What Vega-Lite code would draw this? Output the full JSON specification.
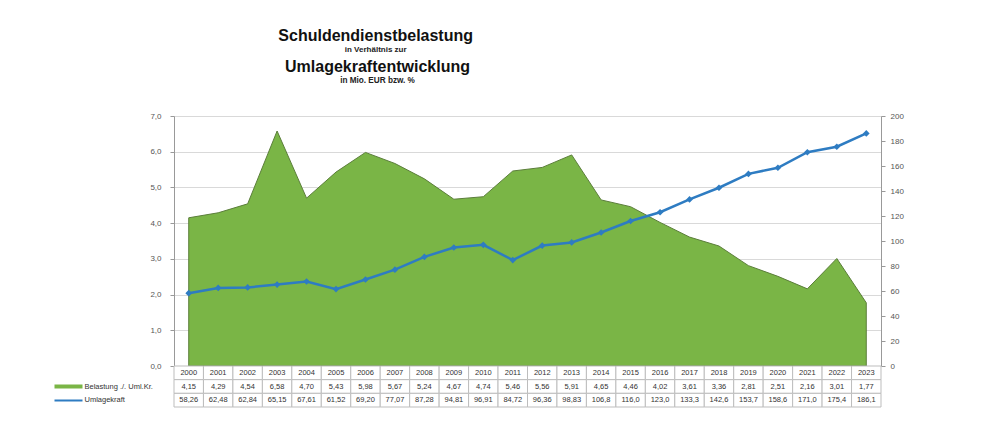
{
  "$schema": "https://vega.github.io/schema/vega-lite/v6.json",
  "background": "white",
  "padding": {"left": 52, "top": 27, "right": 10, "bottom": 10},
  "config": {
    "font": "Liberation Sans",
    "locale": {"number": {"decimal": ",", "thousands": ".", "grouping": [3], "currency": ["", " €"]}},
    "view": {"stroke": null},
    "axis": {"labelFont": "Liberation Sans", "labelFontSize": 8, "labelColor": "#555555"}
  },
  "datasets": {
    "d": [
      {"jahr": "2000", "belastung": 4.15, "umlage": 58.26},
      {"jahr": "2001", "belastung": 4.29, "umlage": 62.48},
      {"jahr": "2002", "belastung": 4.54, "umlage": 62.84},
      {"jahr": "2003", "belastung": 6.58, "umlage": 65.15},
      {"jahr": "2004", "belastung": 4.70, "umlage": 67.61},
      {"jahr": "2005", "belastung": 5.43, "umlage": 61.52},
      {"jahr": "2006", "belastung": 5.98, "umlage": 69.20},
      {"jahr": "2007", "belastung": 5.67, "umlage": 77.07},
      {"jahr": "2008", "belastung": 5.24, "umlage": 87.28},
      {"jahr": "2009", "belastung": 4.67, "umlage": 94.81},
      {"jahr": "2010", "belastung": 4.74, "umlage": 96.91},
      {"jahr": "2011", "belastung": 5.46, "umlage": 84.72},
      {"jahr": "2012", "belastung": 5.56, "umlage": 96.36},
      {"jahr": "2013", "belastung": 5.91, "umlage": 98.83},
      {"jahr": "2014", "belastung": 4.65, "umlage": 106.8},
      {"jahr": "2015", "belastung": 4.46, "umlage": 116.0},
      {"jahr": "2016", "belastung": 4.02, "umlage": 123.0},
      {"jahr": "2017", "belastung": 3.61, "umlage": 133.3},
      {"jahr": "2018", "belastung": 3.36, "umlage": 142.6},
      {"jahr": "2019", "belastung": 2.81, "umlage": 153.7},
      {"jahr": "2020", "belastung": 2.51, "umlage": 158.6},
      {"jahr": "2021", "belastung": 2.16, "umlage": 171.0},
      {"jahr": "2022", "belastung": 3.01, "umlage": 175.4},
      {"jahr": "2023", "belastung": 1.77, "umlage": 186.1}
    ]
  },
  "title": {
    "text": "Schuldendienstbelastung",
    "subtitle": "in Verhältnis zur",
    "anchor": "middle",
    "dx": -102,
    "font": "Liberation Sans",
    "fontSize": 16,
    "fontWeight": "bold",
    "color": "#111111",
    "subtitleFont": "Liberation Sans",
    "subtitleFontSize": 8,
    "subtitleFontWeight": "bold",
    "subtitleColor": "#222222",
    "subtitlePadding": 2,
    "offset": 5
  },
  "bounds": "flush",
  "spacing": 0,
  "vconcat": [
    {
      "width": 707,
      "height": 250,
      "data": {"name": "d"},
      "title": {
        "text": "Umlagekraftentwicklung",
        "subtitle": "in Mio. EUR bzw. %",
        "anchor": "middle",
        "dx": -150,
        "font": "Liberation Sans",
        "fontSize": 16,
        "fontWeight": "bold",
        "color": "#111111",
        "subtitleFont": "Liberation Sans",
        "subtitleFontSize": 8.2,
        "subtitleFontWeight": "bold",
        "subtitleColor": "#222222",
        "subtitlePadding": 2,
        "offset": 28
      },
      "layer": [
        {
          "mark": {"type": "area", "color": "#7ab546", "stroke": "#5b7e3a", "strokeWidth": 1, "opacity": 1},
          "encoding": {
            "x": {"field": "jahr", "type": "ordinal", "scale": {"type": "point", "padding": 0.5}, "axis": null},
            "y": {
              "field": "belastung", "type": "quantitative",
              "scale": {"domain": [0, 7], "nice": false},
              "axis": {
                "title": null, "values": [0, 1, 2, 3, 4, 5, 6, 7], "format": ".1f",
                "grid": true, "gridColor": "#d9d9d9", "domainColor": "#999999",
                "tickColor": "#999999", "tickSize": 4, "labelPadding": 9
              }
            }
          }
        },
        {
          "mark": {"type": "line", "color": "#2e7cc2", "strokeWidth": 2.5,
                   "point": {"shape": "diamond", "size": 45, "filled": true, "color": "#2e7cc2"}},
          "encoding": {
            "x": {"field": "jahr", "type": "ordinal", "scale": {"type": "point", "padding": 0.5}, "axis": null},
            "y": {
              "field": "umlage", "type": "quantitative",
              "scale": {"domain": [0, 200], "nice": false},
              "axis": {
                "orient": "right", "title": null,
                "values": [0, 20, 40, 60, 80, 100, 120, 140, 160, 180, 200], "format": "d",
                "grid": false, "domainColor": "#999999",
                "tickColor": "#999999", "tickSize": 4, "labelPadding": 5
              }
            }
          }
        }
      ],
      "resolve": {"scale": {"y": "independent"}}
    },
    {
      "width": 707,
      "height": 41,
      "data": {"name": "d"},
      "encoding": {
        "x": {"field": "jahr", "type": "nominal", "scale": {"type": "band", "paddingInner": 0, "paddingOuter": 0}, "axis": null}
      },
      "layer": [
        {
          "mark": {"type": "rect", "fill": "white", "stroke": "#bdbdbd", "strokeWidth": 1},
          "encoding": {
            "y": {
              "datum": "jahr", "type": "nominal",
              "scale": {"domain": ["jahr", "belastung", "umlage"], "type": "band", "paddingInner": 0, "paddingOuter": 0},
              "axis": {
                "title": null, "domain": false,
                "labelExpr": "datum.value == 'belastung' ? 'Belastung ./. Uml.Kr.' : datum.value == 'umlage' ? 'Umlagekraft' : ''",
                "labelAlign": "left", "labelPadding": -30, "labelFontSize": 7.5, "labelColor": "#333333",
                "tickSize": 120, "tickDash": [0, 92, 28, 500],
                "tickColor": {"condition": {"test": "datum.value == 'belastung'", "value": "#7ab546"}, "value": "#2e7cc2"},
                "tickWidth": {"condition": {"test": "datum.value == 'belastung'", "value": 4}, "value": 2},
                "tickOpacity": {"condition": {"test": "datum.value == 'jahr'", "value": 0}, "value": 1}
              }
            }
          }
        },
        {
          "mark": {"type": "rect", "fill": "white", "stroke": "#bdbdbd", "strokeWidth": 1},
          "encoding": {"y": {"datum": "belastung", "type": "nominal"}}
        },
        {
          "mark": {"type": "rect", "fill": "white", "stroke": "#bdbdbd", "strokeWidth": 1},
          "encoding": {"y": {"datum": "umlage", "type": "nominal"}}
        },
        {
          "mark": {"type": "text", "fontSize": 7.5, "color": "#333333"},
          "encoding": {"y": {"datum": "jahr", "type": "nominal"}, "text": {"field": "jahr"}}
        },
        {
          "mark": {"type": "text", "fontSize": 7.5, "color": "#333333"},
          "encoding": {"y": {"datum": "belastung", "type": "nominal"}, "text": {"field": "belastung", "type": "quantitative", "format": ".2f"}}
        },
        {
          "mark": {"type": "text", "fontSize": 7.5, "color": "#333333"},
          "encoding": {"y": {"datum": "umlage", "type": "nominal"}, "text": {"field": "umlage", "type": "quantitative", "format": ".4r"}}
        }
      ]
    }
  ]
}
